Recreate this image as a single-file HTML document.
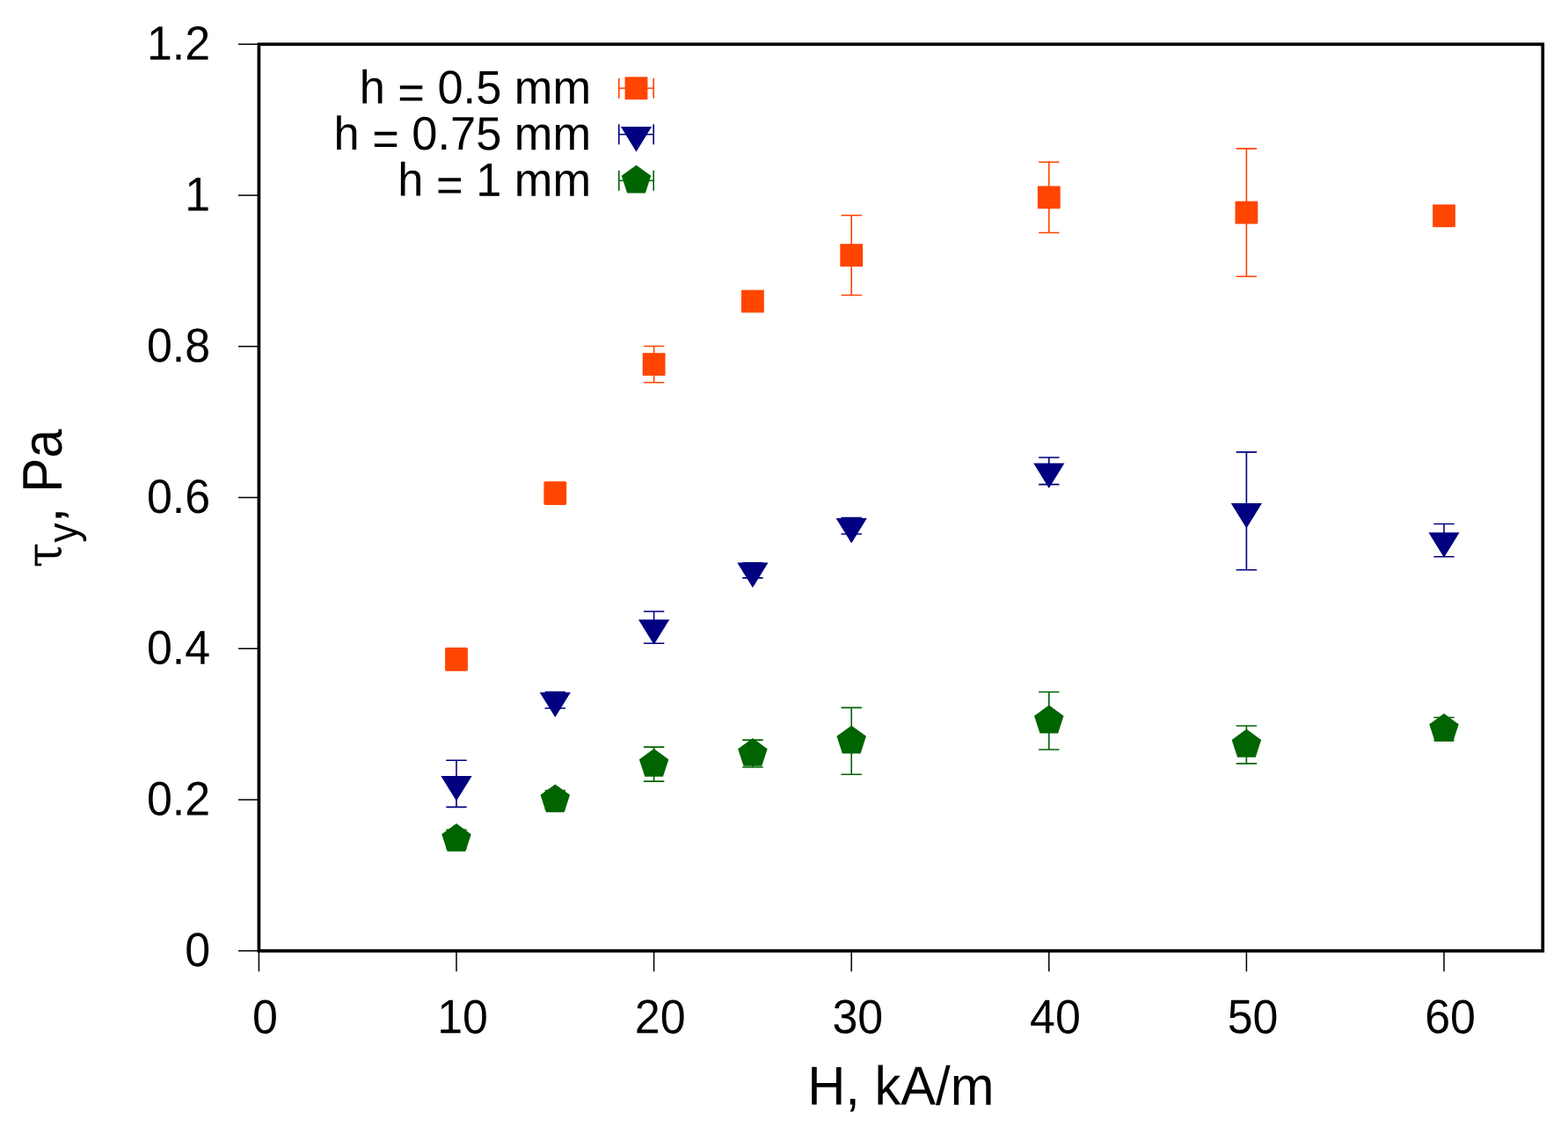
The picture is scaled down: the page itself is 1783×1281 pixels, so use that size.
<!DOCTYPE html>
<html lang="en"><head><meta charset="utf-8"><title>Yield stress vs magnetic field</title>
<style>
html,body{margin:0;padding:0;background:#fff;}
body{width:1783px;height:1281px;overflow:hidden;}
svg{display:block;}
text{font-family:"Liberation Sans",sans-serif;fill:#000;text-rendering:geometricPrecision;}
.tk{font-size:54.6px;}
.lg{font-size:53.5px;}
.lb{font-size:62px;}
.greek{font-family:"Liberation Serif","DejaVu Serif",serif;}
</style></head><body>
<svg width="1783" height="1281" viewBox="0 0 1783 1281">
<rect x="0" y="0" width="1783" height="1281" fill="#fff"/>
<path d="M271 1080.8H294.4M271 909.05H294.4M271 737.3H294.4M271 565.55H294.4M271 393.8H294.4M271 222.05H294.4M271 50.3H294.4M294.4 1080.8V1104.2M519 1080.8V1104.2M743.6 1080.8V1104.2M968.2 1080.8V1104.2M1192.8 1080.8V1104.2M1417.4 1080.8V1104.2M1642 1080.8V1104.2" fill="none" stroke="#000" stroke-width="1.5"/>
<g fill="none" stroke="#ff4500" stroke-width="1.6">
<path d="M519 736.85V761.95M507.3 736.85H530.7M507.3 761.95H530.7"/>
<path d="M631.3 548V573.2M619.6 548H643M619.6 573.2H643"/>
<path d="M743.6 393.5V434.7M731.9 393.5H755.3M731.9 434.7H755.3"/>
<path d="M855.9 334.5V350.5M844.2 334.5H867.6M844.2 350.5H867.6"/>
<path d="M968.2 244.75V335.45M956.5 244.75H979.9M956.5 335.45H979.9"/>
<path d="M1192.8 184.25V264.45M1181.1 184.25H1204.5M1181.1 264.45H1204.5"/>
<path d="M1417.4 168.9V314.3M1405.7 168.9H1429.1M1405.7 314.3H1429.1"/>
<path d="M1642 237.35V253.35M1630.3 237.35H1653.7M1630.3 253.35H1653.7"/>
</g>
<g fill="#ff4500">
<rect x="506.1" y="736.5" width="25.8" height="25.8"/>
<rect x="618.4" y="547.7" width="25.8" height="25.8"/>
<rect x="730.7" y="401.2" width="25.8" height="25.8"/>
<rect x="843" y="329.6" width="25.8" height="25.8"/>
<rect x="955.3" y="277.2" width="25.8" height="25.8"/>
<rect x="1179.9" y="211.45" width="25.8" height="25.8"/>
<rect x="1404.5" y="228.7" width="25.8" height="25.8"/>
<rect x="1629.1" y="232.45" width="25.8" height="25.8"/>
</g>
<g fill="none" stroke="#000080" stroke-width="1.6">
<path d="M519 864.25V917.35M507.3 864.25H530.7M507.3 917.35H530.7"/>
<path d="M631.3 786.45V804.95M619.6 786.45H643M619.6 804.95H643"/>
<path d="M743.6 695V731.2M731.9 695H755.3M731.9 731.2H755.3"/>
<path d="M855.9 639.7V656.9M844.2 639.7H867.6M844.2 656.9H867.6"/>
<path d="M968.2 588.6V607M956.5 588.6H979.9M956.5 607H979.9"/>
<path d="M1192.8 520.05V550.65M1181.1 520.05H1204.5M1181.1 550.65H1204.5"/>
<path d="M1417.4 513.85V647.75M1405.7 513.85H1429.1M1405.7 647.75H1429.1"/>
<path d="M1642 595.5V632.7M1630.3 595.5H1653.7M1630.3 632.7H1653.7"/>
</g>
<g fill="#000080">
<polygon points="501.4,882.05 536.6,882.05 519,910.4"/>
<polygon points="613.7,786.95 648.9,786.95 631.3,815.3"/>
<polygon points="726,704.35 761.2,704.35 743.6,732.7"/>
<polygon points="838.3,639.55 873.5,639.55 855.9,667.9"/>
<polygon points="950.6,589.05 985.8,589.05 968.2,617.4"/>
<polygon points="1175.2,526.6 1210.4,526.6 1192.8,554.95"/>
<polygon points="1399.8,572.05 1435,572.05 1417.4,600.4"/>
<polygon points="1624.4,605.35 1659.6,605.35 1642,633.7"/>
</g>
<g fill="none" stroke="#006400" stroke-width="1.6">
<path d="M519 943.2V964M507.3 943.2H530.7M507.3 964H530.7"/>
<path d="M631.3 898.6V919.4M619.6 898.6H643M619.6 919.4H643"/>
<path d="M743.6 849.1V888.1M731.9 849.1H755.3M731.9 888.1H755.3"/>
<path d="M855.9 841.15V872.05M844.2 841.15H867.6M844.2 872.05H867.6"/>
<path d="M968.2 804.4V880.2M956.5 804.4H979.9M956.5 880.2H979.9"/>
<path d="M1192.8 786.45V851.95M1181.1 786.45H1204.5M1181.1 851.95H1204.5"/>
<path d="M1417.4 824.95V867.85M1405.7 824.95H1429.1M1405.7 867.85H1429.1"/>
<path d="M1642 815.5V841.7M1630.3 815.5H1653.7M1630.3 841.7H1653.7"/>
</g>
<g fill="#006400">
<polygon points="519,936 535.74,948.16 529.35,967.84 508.65,967.84 502.26,948.16"/>
<polygon points="631.3,891.4 648.04,903.56 641.65,923.24 620.95,923.24 614.56,903.56"/>
<polygon points="743.6,851 760.34,863.16 753.95,882.84 733.25,882.84 726.86,863.16"/>
<polygon points="855.9,839 872.64,851.16 866.25,870.84 845.55,870.84 839.16,851.16"/>
<polygon points="968.2,824.7 984.94,836.86 978.55,856.54 957.85,856.54 951.46,836.86"/>
<polygon points="1192.8,801.6 1209.54,813.76 1203.15,833.44 1182.45,833.44 1176.06,813.76"/>
<polygon points="1417.4,828.8 1434.14,840.96 1427.75,860.64 1407.05,860.64 1400.66,840.96"/>
<polygon points="1642,811 1658.74,823.16 1652.35,842.84 1631.65,842.84 1625.26,823.16"/>
</g>
<g fill="none" stroke="#ff4500" stroke-width="1.6"><path d="M703.8 100.3H743.2M703.8 88.85V111.75M743.2 88.85V111.75"/></g>
<g fill="#ff4500"><rect x="710.6" y="87.4" width="25.8" height="25.8"/></g>
<g fill="none" stroke="#000080" stroke-width="1.6"><path d="M703.8 152.8H743.2M703.8 141.35V164.25M743.2 141.35V164.25"/></g>
<g fill="#000080"><polygon points="705.9,144.05 741.1,144.05 723.5,172.4"/></g>
<g fill="none" stroke="#006400" stroke-width="1.6"><path d="M703.8 205.3H743.2M703.8 193.85V216.75M743.2 193.85V216.75"/></g>
<g fill="#006400"><polygon points="723.5,187.7 740.24,199.86 733.85,219.54 713.15,219.54 706.76,199.86"/></g>
<text class="lg" transform="translate(672.1 117.75) rotate(0.05) scale(0.979 1)" text-anchor="end" xml:space="preserve">h <tspan dy="5.9">=</tspan><tspan dy="-5.9"> 0.5 mm</tspan></text>
<text class="lg" transform="translate(672.1 170.25) rotate(0.05) scale(0.979 1)" text-anchor="end" xml:space="preserve">h <tspan dy="5.9">=</tspan><tspan dy="-5.9"> 0.75 mm</tspan></text>
<text class="lg" transform="translate(672.1 222.75) rotate(0.05) scale(0.979 1)" text-anchor="end" xml:space="preserve">h <tspan dy="5.9">=</tspan><tspan dy="-5.9"> 1 mm</tspan></text>
<rect x="294.4" y="50.3" width="1459.9" height="1030.5" fill="none" stroke="#000" stroke-width="3.7"/>
<text class="tk" transform="translate(239.1 1098.2) rotate(0.05) scale(0.95 1)" text-anchor="end">0</text>
<text class="tk" transform="translate(239.1 926.45) rotate(0.05) scale(0.95 1)" text-anchor="end">0.2</text>
<text class="tk" transform="translate(239.1 754.7) rotate(0.05) scale(0.95 1)" text-anchor="end">0.4</text>
<text class="tk" transform="translate(239.1 582.95) rotate(0.05) scale(0.95 1)" text-anchor="end">0.6</text>
<text class="tk" transform="translate(239.1 411.2) rotate(0.05) scale(0.95 1)" text-anchor="end">0.8</text>
<text class="tk" transform="translate(239.1 239.45) rotate(0.05) scale(0.95 1)" text-anchor="end">1</text>
<text class="tk" transform="translate(239.1 67.7) rotate(0.05) scale(0.95 1)" text-anchor="end">1.2</text>
<text class="tk" transform="translate(301.5 1174.4) rotate(0.05) scale(0.95 1)" text-anchor="middle">0</text>
<text class="tk" transform="translate(526.1 1174.4) rotate(0.05) scale(0.95 1)" text-anchor="middle">10</text>
<text class="tk" transform="translate(750.7 1174.4) rotate(0.05) scale(0.95 1)" text-anchor="middle">20</text>
<text class="tk" transform="translate(975.3 1174.4) rotate(0.05) scale(0.95 1)" text-anchor="middle">30</text>
<text class="tk" transform="translate(1199.9 1174.4) rotate(0.05) scale(0.95 1)" text-anchor="middle">40</text>
<text class="tk" transform="translate(1424.5 1174.4) rotate(0.05) scale(0.95 1)" text-anchor="middle">50</text>
<text class="tk" transform="translate(1649.1 1174.4) rotate(0.05) scale(0.95 1)" text-anchor="middle">60</text>
<text class="lb" transform="translate(1024.3 1255.6) rotate(0.05) scale(0.962 1)" text-anchor="middle">H, kA/m</text>
<g class="ylab">
<text transform="translate(69.86 645.34) rotate(-89.95) scale(0.8864 1)" style="font-size:58px;font-family:'DejaVu Serif','Liberation Serif',serif;">τ</text>
<text transform="translate(87.97 616.86) rotate(-89.95) scale(0.91 1)" style="font-size:49px;">y</text>
<text transform="translate(69.95 594.55) rotate(-89.95) scale(1.0535 1)" style="font-size:62px;">,</text>
<text transform="translate(69.95 559.7) rotate(-89.95) scale(0.925 1)" style="font-size:63.5px;">Pa</text>
</g>
</svg></body></html>
